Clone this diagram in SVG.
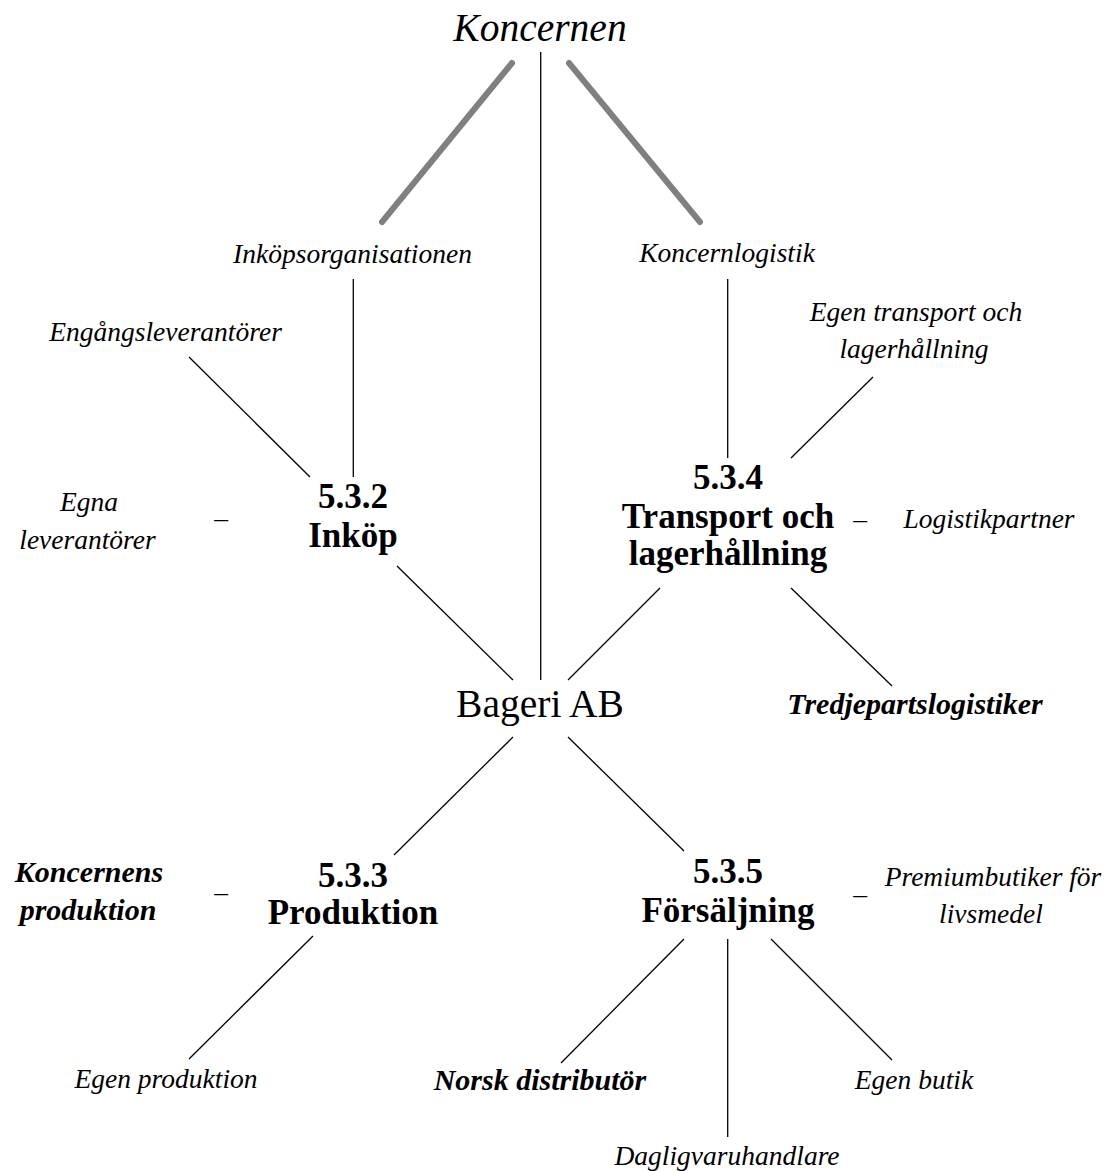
<svg xmlns="http://www.w3.org/2000/svg" width="1111" height="1171" viewBox="0 0 1111 1171">
<style>
  text { font-family: "Liberation Serif", "Times New Roman", serif; fill: #000; text-anchor: middle; }
  .big { font-size: 39.5px; }
  .it { font-style: italic; font-size: 27.5px; }
  .bi { font-style: italic; font-weight: bold; font-size: 30px; }
  .bd { font-weight: bold; font-size: 35px; }
  .ln { stroke: #000; stroke-width: 1.3; fill: none; }
  .thick { stroke: #808080; stroke-width: 6; stroke-linecap: round; fill: none; }
</style>
<rect width="1111" height="1171" fill="#fff"/>
<g id="connectors">
  <line class="thick" x1="512" y1="63" x2="382" y2="222"/>
  <line class="thick" x1="569" y1="63" x2="700" y2="222"/>
  <line class="ln" x1="540.7" y1="52" x2="540.7" y2="680"/>
  <line class="ln" x1="353.3" y1="279" x2="353.3" y2="477"/>
  <line class="ln" x1="189" y1="357" x2="310" y2="477"/>
  <line class="ln" x1="397" y1="566" x2="513" y2="680"/>
  <line class="ln" x1="727.7" y1="279" x2="727.7" y2="458"/>
  <line class="ln" x1="873" y1="377" x2="791" y2="458"/>
  <line class="ln" x1="660" y1="588" x2="568" y2="680"/>
  <line class="ln" x1="791" y1="588" x2="892" y2="686"/>
  <line class="ln" x1="513" y1="737" x2="394" y2="855"/>
  <line class="ln" x1="568" y1="737" x2="684" y2="851"/>
  <line class="ln" x1="313" y1="936" x2="189" y2="1059"/>
  <line class="ln" x1="684" y1="939" x2="561" y2="1063"/>
  <line class="ln" x1="727.7" y1="939" x2="727.7" y2="1137"/>
  <line class="ln" x1="771" y1="939" x2="892" y2="1060"/>
</g>
<g id="koncernen"><text class="big" font-style="italic" x="540" y="41">Koncernen</text></g>
<g id="bageri"><text class="big" x="540" y="717">Bageri AB</text></g>
<g id="inkopsorg"><text class="it" x="352.5" y="263">Inköpsorganisationen</text></g>
<g id="koncernlogistik"><text class="it" x="727" y="262">Koncernlogistik</text></g>
<g id="engangs"><text class="it" x="165.5" y="341">Engångsleverantörer</text></g>
<g id="egentransport"><text class="it" x="916" y="321">Egen transport och</text><text class="it" x="914" y="358">lagerhållning</text></g>
<g id="egnalev"><text class="it" x="89" y="511">Egna</text><text class="it" x="87.5" y="549">leverantörer</text></g>
<g id="dash1"><text class="it" x="221" y="527">–</text></g>
<g id="inkop"><text class="bd" x="353" y="508">5.3.2</text><text class="bd" x="353" y="547">Inköp</text></g>
<g id="transport"><text class="bd" x="728" y="489">5.3.4</text><text class="bd" x="728" y="528">Transport och</text><text class="bd" x="728" y="565">lagerhållning</text></g>
<g id="dash2"><text class="it" x="860" y="528">–</text></g>
<g id="logistikpartner"><text class="it" x="989" y="528">Logistikpartner</text></g>
<g id="tredjeparts"><text class="bi" x="915" y="714">Tredjepartslogistiker</text></g>
<g id="koncernensprod"><text class="bi" x="89" y="882">Koncernens</text><text class="bi" x="88" y="920">produktion</text></g>
<g id="dash3"><text class="it" x="221" y="901">–</text></g>
<g id="produktion"><text class="bd" x="353" y="887">5.3.3</text><text class="bd" x="353" y="924">Produktion</text></g>
<g id="forsaljning"><text class="bd" x="728" y="883">5.3.5</text><text class="bd" x="728" y="922">Försäljning</text></g>
<g id="dash4"><text class="it" x="860" y="903">–</text></g>
<g id="premium"><text class="it" x="993" y="886">Premiumbutiker för</text><text class="it" x="991" y="923">livsmedel</text></g>
<g id="egenprod"><text class="it" x="166" y="1088">Egen produktion</text></g>
<g id="norsk"><text class="bi" x="540" y="1090">Norsk distributör</text></g>
<g id="egenbutik"><text class="it" x="914" y="1089">Egen butik</text></g>
<g id="dagligvaru"><text class="it" x="727" y="1165">Dagligvaruhandlare</text></g>
</svg>
